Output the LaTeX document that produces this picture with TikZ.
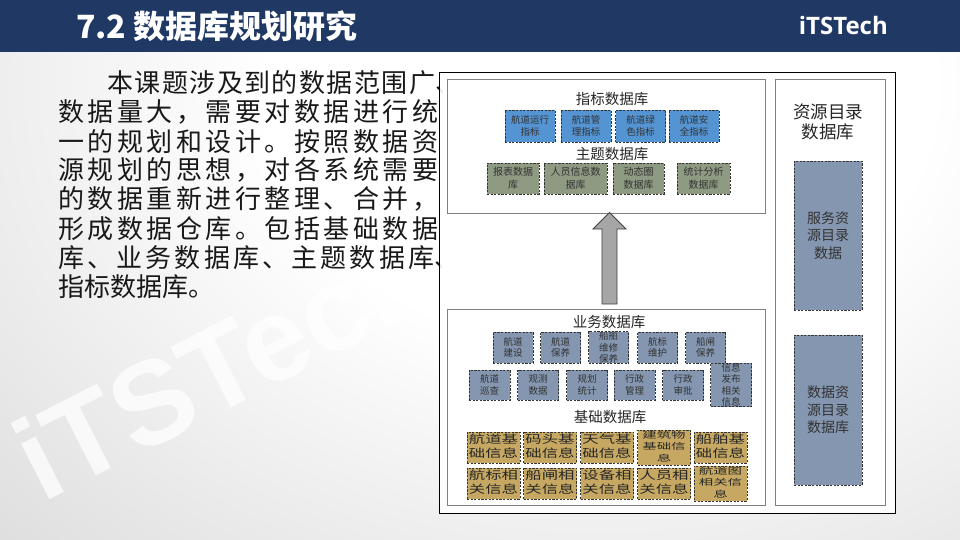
\documentclass[tikz,border=0pt]{standalone}
\usepackage{fontspec}
\usepackage{graphicx}
\setmainfont{Noto Sans CJK SC}
\newfontfamily\brandfont{Open Sans}
\newfontfamily\wmfont{Liberation Sans}
\definecolor{navy}{HTML}{203864}
\definecolor{boxblue}{HTML}{5494D2}
\definecolor{boxgreen}{HTML}{8F9A82}
\definecolor{boxslate}{HTML}{8496B0}
\definecolor{boxtan}{HTML}{C6A863}
\definecolor{arrowgray}{HTML}{A6A6A6}
\pgfdeclareradialshading{bgshade}{\pgfpoint{0bp}{0bp}}{color(0bp)=(white); color(8bp)=(white); color(20bp)=(gray!25); color(35bp)=(gray!65); color(50bp)=(gray!85)}
\def\sprA#1{\ifx#1\relax\else#1\hfill\expandafter\sprA\fi}
\newcommand\spreadline[2]{\hbox to #1{\sprA#2\relax\unskip}}
\newcommand\widetext[2]{\scalebox{#1}[1]{\begin{tabular}{@{}c@{}}#2\end{tabular}}}
\tikzset{
  body/.style={font=\fontsize{26}{28}\selectfont, text=black!90, inner sep=0, anchor=west},
  hdr/.style={font=\fontsize{14.5}{16}\selectfont, text=black!85, inner sep=0},
  hdrbig/.style={font=\fontsize{17.5}{20.5}\selectfont, text=black!85, inner sep=0, align=center},
  panel/.style={draw=black!50, line width=0.8pt, fill=white, inner sep=0},
  frame/.style={draw=black, line width=0.9pt, fill=white, fill opacity=0.92, inner sep=0},
  dbox/.style={draw=black!80, line width=0.7pt, dash pattern=on 2.2pt off 1.4pt, inner sep=0, align=center, text=black!80},
  blu/.style={dbox, fill=boxblue, minimum width=50, minimum height=32, font=\fontsize{9.5}{12.5}\selectfont},
  grn/.style={dbox, fill=boxgreen, minimum height=31, font=\fontsize{10}{13}\selectfont},
  slt/.style={dbox, fill=boxslate, minimum height=31, minimum width=40, font=\fontsize{9.5}{11.5}\selectfont},
  sltb/.style={dbox, fill=boxslate, minimum height=30, minimum width=41, font=\fontsize{9.5}{11.5}\selectfont},
  sltr/.style={dbox, fill=boxslate, minimum width=68, font=\fontsize{14}{17.5}\selectfont},
  tan/.style={dbox, fill=boxtan, minimum width=53, minimum height=31, text=black!85},
  tanbig/.style={tan, font=\fontsize{11.3}{13.3}\selectfont},
  tansmall/.style={tan, font=\fontsize{8.5}{11.7}\selectfont},
  wm/.style={font=\wmfont\bfseries\fontsize{118}{118}\selectfont, text=white, text opacity=0.75, rotate=27, inner sep=0},
}
\begin{document}
\begin{tikzpicture}[x=1pt,y=-1pt]
\useasboundingbox (0,0) rectangle (960,540);
% background
\begin{scope}
  \clip (0,0) rectangle (960,540);
  \fill[gray!85] (0,0) rectangle (960,540);
  \shade[shading=bgshade] (600,90) ellipse [x radius=1040, y radius=800];
\end{scope}
% watermarks
\node[wm] (wm1) at (224,364) {iTSTech};
\node[wm] (wm2) at (719,226) {iTSTech};
% title bar
\fill[navy] (0,0) rectangle (960,52);
\node[anchor=west, inner sep=0, text=white, font=\bfseries\fontsize{32}{34}\selectfont] (ttl) at (76,26) {7.2 数据库规划研究};
\node[anchor=east, inner sep=0, text=white, font=\brandfont\bfseries\fontsize{24}{26}\selectfont] (brand) at (888,26) {iTSTech};
% body text
\node[body] (l1) at (107,83) {\spreadline{328pt}{本课题涉及到的数据范围广}\rlap{、}};
\node[body] (l2) at (58,112.1) {\spreadline{380pt}{数据量大，需要对数据进行统}};
\node[body] (l3) at (58,141.2) {\spreadline{380pt}{一的规划和设计。按照数据资}};
\node[body] (l4) at (58,170.3) {\spreadline{380pt}{源规划的思想，对各系统需要}};
\node[body] (l5) at (58,199.4) {\spreadline{380pt}{的数据重新进行整理、合并，}};
\node[body] (l6) at (58,228.5) {\spreadline{380pt}{形成数据仓库。包括基础数据}};
\node[body] (l7) at (58,257.6) {\spreadline{376pt}{库、业务数据库、主题数据库}\rlap{、}};
\node[body] (l8) at (58,286.7) {指标数据库。};
% frames
\node[frame, minimum width=456, minimum height=441] (outer) at (667,292.5) {};
\node[panel, minimum width=318, minimum height=134] (toppanel) at (606,146) {};
\node[panel, minimum width=318, minimum height=196] (botpanel) at (606,407) {};
\node[panel, minimum width=110, minimum height=426] (rightpanel) at (830,292) {};
% arrow
\draw[draw=black!75, line width=0.8pt, fill=arrowgray]
  (602,304) -- (602,229) -- (593,229) -- (609.5,212.5) -- (626,229) -- (617,229) -- (617,304) -- cycle;
% top panel
\node[hdr] (h1) at (612,99) {指标数据库};
\node[blu] (z1) at (530,126) {航道运行\\指标};
\node[blu] (z2) at (586,126) {航道管\\理指标};
\node[blu] (z3) at (640.5,126) {航道绿\\色指标};
\node[blu] (z4) at (694,126) {航道安\\全指标};
\node[hdr] (h2) at (612,154) {主题数据库};
\node[grn, minimum width=52] (t1) at (513,178.5) {报表数据\\库};
\node[grn, minimum width=63] (t2) at (575.5,178.5) {人员信息数\\据库};
\node[grn, minimum width=51] (t3) at (638.5,178.5) {动态圈\\数据库};
\node[grn, minimum width=53] (t4) at (703.5,178.5) {统计分析\\数据库};
% bottom panel
\node[hdr] (h3) at (609,322) {业务数据库};
\node[slt] (s1) at (513,347.5) {航道\\建设};
\node[slt] (s2) at (560.5,347.5) {航道\\保养};
\node[slt] (s3) at (608.5,347.5) {船舶\\维修\\保养};
\node[slt] (s4) at (657.5,347.5) {航标\\维护};
\node[slt] (s5) at (705.5,347.5) {船闸\\保养};
\node[sltb] (u1) at (489.5,385) {航道\\巡查};
\node[sltb] (u2) at (538,385) {观测\\数据};
\node[sltb] (u3) at (587,385) {规划\\统计};
\node[sltb] (u4) at (634.5,385) {行政\\管理};
\node[sltb] (u5) at (683,385) {行政\\审批};
\node[sltb] (u6) at (731,385) {信息\\发布\\相关\\信息};
\node[hdr] (h4) at (610,417) {基础数据库};
\node[tanbig] (a1) at (493.5,447.5) {\widetext{1.45}{航道基\\础信息}};
\node[tanbig] (a2) at (550,447.5) {\widetext{1.45}{码头基\\础信息}};
\node[tanbig] (a3) at (607,447.5) {\widetext{1.45}{天气基\\础信息}};
\node[tansmall] (a4) at (664,447.5) {\widetext{1.7}{建筑物\\基础信\\息}};
\node[tanbig] (a5) at (720.5,447.5) {\widetext{1.45}{船舶基\\础信息}};
\node[tanbig] (b1) at (493.5,483.5) {\widetext{1.45}{航标相\\关信息}};
\node[tanbig] (b2) at (550,483.5) {\widetext{1.45}{船闸相\\关信息}};
\node[tanbig] (b3) at (607,483.5) {\widetext{1.45}{设备相\\关信息}};
\node[tanbig] (b4) at (664,483.5) {\widetext{1.45}{人员相\\关信息}};
\node[tansmall] (b5) at (720.5,483.5) {\widetext{1.7}{航道图\\相关信\\息}};
% right panel
\node[hdrbig] (h5) at (828,122) {资源目录\\数据库};
\node[sltr, minimum height=149] (r1) at (828,235.5) {服务资\\源目录\\数据};
\node[sltr, minimum height=150] (r2) at (828,410) {数据资\\源目录\\数据库};
\end{tikzpicture}
\end{document}
